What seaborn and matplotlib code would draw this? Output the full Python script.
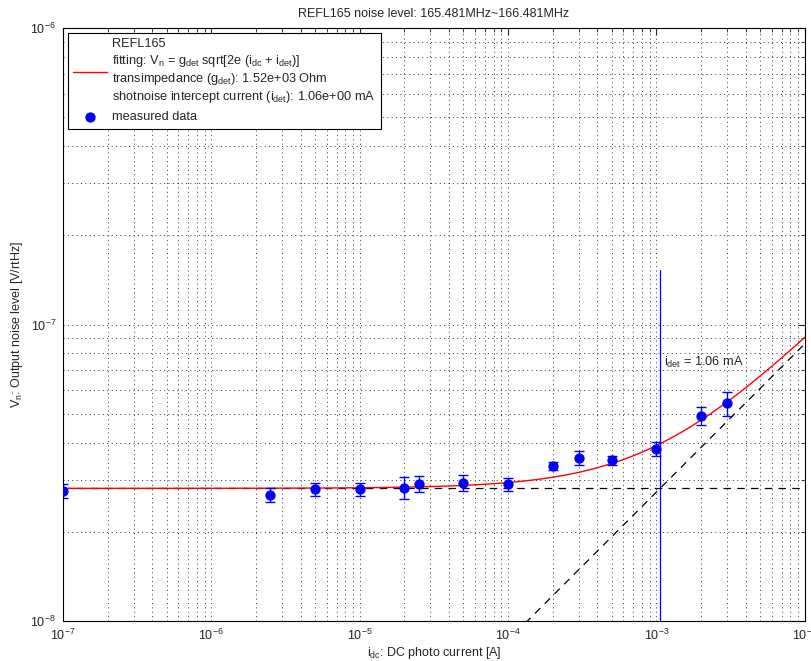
import numpy as np
import pandas as pd
import matplotlib
matplotlib.use("Agg")
import matplotlib.pyplot as plt
import seaborn as sns

# measured noise level vs DC photo current
i_dc = [1e-7, 2.5e-6, 5e-6, 1e-5, 2e-5, 2.5e-5, 5e-5, 1e-4,
        2e-4, 3e-4, 5e-4, 1e-3, 2e-3, 3e-3]
v_noise = [2.74e-8, 2.66e-8, 2.78e-8, 2.78e-8, 2.82e-8, 2.90e-8, 2.92e-8, 2.89e-8,
           3.34e-8, 3.56e-8, 3.48e-8, 3.81e-8, 4.91e-8, 5.43e-8]
v_err = [1.5e-9, 1.45e-9, 1.4e-9, 1.4e-9, 2.4e-9, 1.8e-9, 1.8e-9, 1.35e-9,
         1.0e-9, 1.9e-9, 1.1e-9, 2.1e-9, 3.4e-9, 5.1e-9]

# fit parameters (from legend)
g_det = 1.52e3      # Ohm
i_det = 1.06e-3     # A
q_e = 1.602e-19

sns.set_style("white")
plt.rcParams['font.family'] = ['Liberation Sans', 'DejaVu Sans']
plt.rcParams['mathtext.default'] = 'regular'
plt.rcParams['font.size'] = 8.5

fig = plt.figure(figsize=(8.12, 6.61), dpi=100)
ax = fig.add_axes([0.0776, 0.0605, 0.9134, 0.8971])

# fitted curve and its asymptotes
x_fit = np.logspace(-7, -2, 400)
fit_df = pd.DataFrame({
    'i': x_fit,
    'fit': g_det * np.sqrt(2 * q_e * (x_fit + i_det)),
    'shot': g_det * np.sqrt(2 * q_e * x_fit),
    'floor': g_det * np.sqrt(2 * q_e * i_det) * np.ones_like(x_fit),
})
sns.lineplot(data=fit_df, x='i', y='floor', color='black', ls=(0, (6, 5)),
             lw=0.9, ax=ax, legend=False)
sns.lineplot(data=fit_df, x='i', y='shot', color='black', ls=(0, (6, 5)),
             lw=0.9, ax=ax, legend=False)

label = ("REFL165\n"
         "fitting: V$_n$ = g$_{det}$ sqrt[2e (i$_{dc}$ + i$_{det}$)]\n"
         "transimpedance (g$_{det}$): %.2e Ohm\n"
         "shotnoise intercept current (i$_{det}$): %.2e mA" % (g_det, i_det * 1e3))
sns.lineplot(data=fit_df, x='i', y='fit', color='red', lw=1.0, ax=ax, label=label)

# detection intercept marker
ax.plot([i_det, i_det], [1e-8, 1.53e-7], color='blue', lw=0.9)
ax.text(i_det * 1.06, 7.25e-8, "i$_{det}$ = %.2f mA" % (i_det * 1e3), fontsize=9.2)

# measured data
meas_df = pd.DataFrame({'i': i_dc, 'v': v_noise, 'err': v_err})
ax.errorbar(meas_df['i'], meas_df['v'], yerr=meas_df['err'], fmt='none',
            ecolor='blue', elinewidth=1.0, capsize=3.5, capthick=1.0)
sns.scatterplot(data=meas_df, x='i', y='v', color='blue', s=55,
                edgecolor='blue', linewidth=0, ax=ax, label='measured data', zorder=5)

ax.set_xscale('log')
ax.set_yscale('log')
ax.set_xlim(1e-7, 1e-2)
ax.set_ylim(1e-8, 1e-6)

ax.grid(True, which='both', ls=(0, (1, 3.5)), color='#333333', lw=0.7)
ax.tick_params(which='both', direction='in', top=True, right=True, labelsize=9)
ax.tick_params(which='major', length=5, pad=5)
ax.tick_params(which='minor', length=3)
for sp in ax.spines.values():
    sp.set_color('black')
    sp.set_linewidth(0.8)

ax.set_title("REFL165 noise level: 165.481MHz~166.481MHz", fontsize=9, pad=8)
ax.set_xlabel("i$_{dc}$: DC photo current [A]", fontsize=9, labelpad=1)
ax.set_ylabel("V$_n$: Output noise level [V/rtHz]", fontsize=9, labelpad=4)

leg = ax.legend(loc='upper left', bbox_to_anchor=(0.007, 0.991), borderaxespad=0,
                fontsize=9.2, frameon=True, fancybox=False, framealpha=1,
                edgecolor='black', borderpad=0.4, labelspacing=0.5,
                handlelength=2.6, handletextpad=0.45)
leg.get_frame().set_linewidth(0.8)

fig.savefig("out.png", dpi=100)
